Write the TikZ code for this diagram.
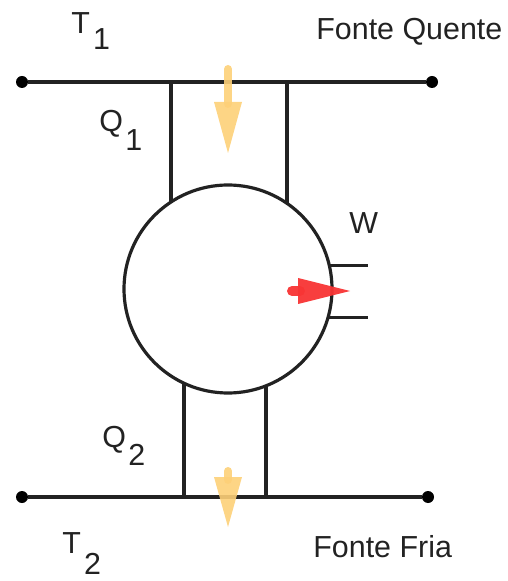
\documentclass[tikz,border=0pt]{standalone}
\usepackage{fontspec}
\setmainfont{Liberation Sans}
\definecolor{heatc}{RGB}{253,208,120}
\definecolor{workc}{RGB}{248,52,52}
\definecolor{inkc}{RGB}{34,34,34}
\begin{document}
\begin{tikzpicture}[x=0.5pt,y=-0.5pt,
  line/.style={line width=1.6pt, draw=inkc},
  dot/.style={circle, fill=black, minimum size=6pt, inner sep=0pt},
  lab/.style={font=\fontsize{15.2}{18}\selectfont, text=inkc, inner sep=0pt, anchor=base west},
  engine/.style={draw=inkc, circle, line width=1.6pt, minimum size=104pt, inner sep=0pt, outer sep=0pt},
  heatarrow/.style={fill=heatc, opacity=0.9},
  heatshaft/.style={draw=heatc, opacity=0.9, line width=4pt, line cap=round},
  workarrow/.style={fill=workc, opacity=0.95},
  workshaft/.style={draw=workc, opacity=0.95, line width=5pt, line cap=round}]
\useasboundingbox (0,0) rectangle (507,581);
% reservoirs
\node[dot] (tl) at (22,82) {};
\node[dot] (tr) at (432,82) {};
\node[dot] (bl) at (22,497) {};
\node[dot] (br) at (428,497) {};
\draw[line] (tl) -- (tr);
\draw[line] (bl) -- (br);
% engine
\node[engine] (eng) at (228,289) {};
\coordinate (a1) at (171,82);
\coordinate (a2) at (287,82);
\coordinate (b1) at (184,497);
\coordinate (b2) at (266,497);
\draw[line] (a1) -- (a1 |- eng.123);
\draw[line] (a2) -- (a2 |- eng.56);
\draw[line] (b1) -- (b1 |- eng.-115);
\draw[line] (b2) -- (b2 |- eng.-68);
% work terminals
\coordinate (w1) at (368,266);
\coordinate (w2) at (368,317);
\draw[line] (eng.13) -- (eng.13 -| w1);
\draw[line] (eng.-16) -- (eng.-16 -| w2);
% heat arrows
\coordinate (h1s) at (228,69);
\coordinate (h1b) at (228,104);
\draw[heatshaft] (h1s) -- (h1b);
\fill[heatarrow] (214,102) -- (242,102) -- (228,153) -- cycle;
\coordinate (h2s) at (228,471);
\coordinate (h2b) at (228,480);
\draw[heatshaft] (h2s) -- (h2b);
\fill[heatarrow] (214,477) -- (242,477) -- (228,527) -- cycle;
% work arrow
\coordinate (ws) at (292,291);
\coordinate (wb) at (300,291);
\draw[workshaft] (ws) -- (wb);
\fill[workarrow] (298,278) -- (350,291) -- (298,304) -- cycle;
% labels
\node[lab] (t1) at (71,34) {T\kern0.1em\raisebox{-0.5em}{1}};
\node[lab] (fq) at (316,40) {Fonte Quente};
\node[lab] (q1) at (99,132) {Q\kern0.08em\raisebox{-0.6em}{1}};
\node[lab] (w) at (349,234) {W};
\node[lab] (q2) at (102,447) {Q\kern0.08em\raisebox{-0.6em}{2}};
\node[lab] (t2) at (62,553) {T\kern0.1em\raisebox{-0.72em}{2}};
\node[lab] (ff) at (313,557) {Fonte Fria};
\end{tikzpicture}
\end{document}
